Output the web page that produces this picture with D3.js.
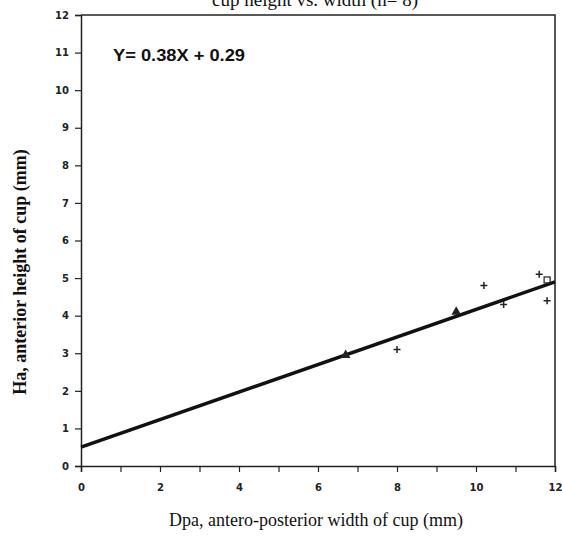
<!DOCTYPE html>
<html lang="en">
<head>
    <meta charset="UTF-8">
    <title>cup height vs. width</title>
    <script src="https://d3js.org/d3.v7.min.js"></script>
    <style>
        body { margin: 0; background: #fff; }
        .tick text { font-family: "DejaVu Sans", sans-serif; font-weight: bold; font-size: 10px; }
        .axis-title { font-family: "Liberation Serif", serif; fill: #111; }
    </style>
</head>
<body>
<script>
    // data
    const widthDpa = [6.7, 8.0, 9.5, 10.2, 10.7, 11.6, 11.8, 11.8];
    const heightHa = [2.95, 3.1, 4.1, 4.8, 4.3, 5.1, 4.95, 4.4];
    const markerKind = ["tri", "plus", "tri", "plus", "plus", "plus", "square", "plus"];
    const fitX = [0, 12];
    const fitY = [0.5, 4.9];
    const xTickValues = d3.range(0, 13, 1);
    const yTickValues = d3.range(0, 13, 1);

    const W = 562, H = 539;
    const margin = {top: 15, right: 7, bottom: 73, left: 81};
    const iw = W - margin.left - margin.right;
    const ih = H - margin.top - margin.bottom;

    const svg = d3.select("body").append("svg")
        .attr("width", W).attr("height", H);
    const g = svg.append("g")
        .attr("transform", "translate(" + margin.left + "," + margin.top + ")");

    const x = d3.scaleLinear().domain([0, 12]).range([0, iw]);
    const y = d3.scaleLinear().domain([0, 12]).range([ih, 0]);

    // frame (top + right)
    g.append("path")
        .attr("d", "M0,0H" + iw + "V" + ih)
        .attr("fill", "none").attr("stroke", "#222").attr("stroke-width", 1.5);

    const xAxis = g.append("g")
        .attr("transform", "translate(0," + ih + ")")
        .call(d3.axisBottom(x).tickValues(xTickValues).tickSize(6).tickPadding(12)
            .tickFormat(d => d % 2 === 0 ? d : ""));
    const yAxis = g.append("g")
        .call(d3.axisLeft(y).tickValues(yTickValues).tickSize(6).tickPadding(6));
    [xAxis, yAxis].forEach(a => {
        a.select(".domain").attr("stroke", "#222").attr("stroke-width", 1.5);
        a.selectAll(".tick line").attr("stroke", "#222").attr("stroke-width", 1.2);
        a.selectAll(".tick text").attr("fill", "#222");
    });

    // regression line
    g.append("line")
        .attr("x1", x(fitX[0])).attr("y1", y(fitY[0]))
        .attr("x2", x(fitX[1])).attr("y2", y(fitY[1]))
        .attr("stroke", "#111").attr("stroke-width", 3.5);

    const pts = widthDpa.map((v, i) => ({x: v, y: heightHa[i], k: markerKind[i]}));
    const m = g.selectAll(".pt").data(pts).enter().append("g")
        .attr("class", "pt")
        .attr("transform", d => "translate(" + x(d.x) + "," + y(d.y) + ")");
    m.filter(d => d.k === "plus").append("path")
        .attr("d", "M-3.5,0H3.5M0,-3.5V3.5")
        .attr("stroke", "#222").attr("stroke-width", 1.5);
    m.filter(d => d.k === "tri").append("path")
        .attr("d", d3.symbol(d3.symbolTriangle, 40))
        .attr("fill", "#222");
    m.filter(d => d.k === "square").append("rect")
        .attr("x", -3).attr("y", -3).attr("width", 6).attr("height", 6)
        .attr("fill", "none").attr("stroke", "#222").attr("stroke-width", 1.2);

    // equation
    g.append("text")
        .attr("x", 32).attr("y", 46)
        .attr("font-family", "Liberation Sans, sans-serif")
        .attr("font-weight", "bold").attr("font-size", 16).attr("fill", "#111")
        .attr("textLength", 132).attr("lengthAdjust", "spacingAndGlyphs")
        .text("Y= 0.38X + 0.29");

    // title (cut at top as in the source)
    svg.append("text")
        .attr("class", "axis-title")
        .attr("x", 315).attr("y", 6)
        .attr("text-anchor", "middle").attr("font-size", 19)
        .text("cup height vs. width (n= 8)");

    svg.append("text")
        .attr("class", "axis-title")
        .attr("x", 316).attr("y", 526)
        .attr("text-anchor", "middle").attr("font-size", 18)
        .text("Dpa,  antero-posterior width of cup (mm)");

    svg.append("text")
        .attr("class", "axis-title")
        .attr("transform", "translate(26,272) rotate(-90)")
        .attr("text-anchor", "middle").attr("font-size", 18).attr("font-weight", "bold")
        .text("Ha, anterior height of cup  (mm)");
</script>
</body>
</html>
